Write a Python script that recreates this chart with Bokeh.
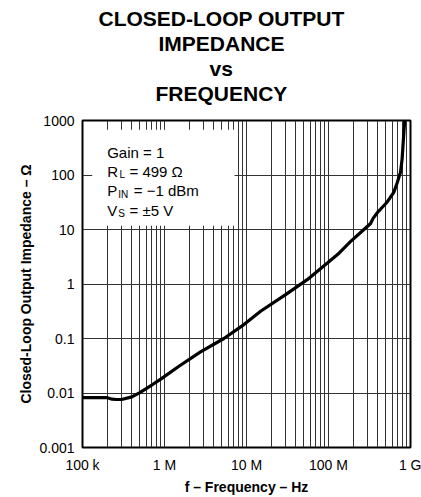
from bokeh.plotting import figure
from bokeh.models import FixedTicker, Label, BoxAnnotation, Title
from bokeh.embed import file_html
from bokeh.resources import INLINE

# ---- data ----
freq_hz = [1e5, 1.5e5, 2e5, 2.3e5, 2.6e5, 3e5, 4e5, 5e5, 7e5, 9e5, 1.5e6, 2.75e6,
           5.3e6, 9.3e6, 1.5e7, 3e7, 5.5e7, 9.6e7, 1.3e8, 1.85e8, 2.6e8, 3.26e8,
           3.5e8, 4e8, 4.3e8, 5.2e8, 6.25e8, 6.9e8, 7.55e8, 7.9e8, 8.15e8, 8.5e8]
impedance_ohm = [0.0082, 0.0082, 0.0082, 0.0077, 0.0076, 0.0076, 0.0085, 0.0102, 0.014,
                 0.018, 0.031, 0.057, 0.1, 0.18, 0.32, 0.64, 1.2, 2.4, 3.5, 6.0, 9.5,
                 12.9, 16, 21, 23.5, 32, 48, 73, 112, 196, 400, 1000]

x_ticks = [1e5, 1e6, 1e7, 1e8, 1e9]
x_tick_labels = ["100 k", "1 M", "10 M", "100 M", "1 G"]
y_ticks = [1e-3, 1e-2, 1e-1, 1e0, 1e1, 1e2, 1e3]
y_tick_labels = ["0.001", "0.01", "0.1", "1", "10", "100", "1000"]

title_lines = ["CLOSED-LOOP OUTPUT", "IMPEDANCE", "vs", "FREQUENCY"]
# left offsets (px from frame left) that centre each title line near x = 221
title_offsets = [16, 76, 127, 73]

FONT = "Liberation Sans"
GRID = "#333333"

p = figure(frame_width=328, frame_height=327, x_axis_type="log", y_axis_type="log",
           x_range=(1e5, 1e9), y_range=(1e-3, 1e3), title_location=None,
           min_border_left=82, min_border_right=11, min_border_top=120,
           min_border_bottom=50, toolbar_location=None, output_backend="svg",
           background_fill_color="white", border_fill_color="white")

p.outline_line_color = "black"
p.outline_line_width = 2
p.outline_line_alpha = 1

# grid: vertical lines at every 1..9 x decade, horizontal at decades
minor_x = [m * 10 ** e for e in range(5, 9) for m in range(1, 10)] + [1e9]
p.xgrid.ticker = FixedTicker(ticks=minor_x)
p.ygrid.ticker = FixedTicker(ticks=y_ticks)
for g in (p.xgrid, p.ygrid):
    g.grid_line_color = GRID
    g.grid_line_width = 1
    g.grid_line_alpha = 1

xa = p.xaxis[0]
ya = p.yaxis[0]
xa.ticker = FixedTicker(ticks=x_ticks, minor_ticks=[])
ya.ticker = FixedTicker(ticks=y_ticks, minor_ticks=[])
xa.major_label_overrides = {t: s for t, s in zip(x_ticks, x_tick_labels)}
ya.major_label_overrides = {t: s for t, s in zip(y_ticks, y_tick_labels)}
for ax in (xa, ya):
    ax.axis_line_color = None
    ax.major_tick_line_color = None
    ax.minor_tick_line_color = None
    ax.major_tick_out = 0
    ax.major_tick_in = 0
    ax.minor_tick_out = 0
    ax.minor_tick_in = 0
    ax.major_label_text_font = FONT
    ax.major_label_text_font_size = "14px"
    ax.major_label_text_color = "black"
    ax.axis_label_text_font = FONT
    ax.axis_label_text_font_size = "14px"
    ax.axis_label_text_font_style = "bold"
    ax.axis_label_text_color = "black"
xa.major_label_standoff = 9
ya.major_label_standoff = 8
xa.axis_label = "f \u2013 Frequency \u2013 Hz"
ya.axis_label = "Closed-Loop Output Impedance \u2013 \u03a9"
xa.axis_label_standoff = 3
ya.axis_label_standoff = 2

# curve
p.line(freq_hz, impedance_ohm, line_color="black", line_width=3.2)

# legend box (white, covers grid)
p.add_layout(BoxAnnotation(left=9.7, right=152, top=317.8, bottom=221.8,
                           left_units="screen", right_units="screen",
                           top_units="screen", bottom_units="screen",
                           fill_color="white", fill_alpha=1, line_color=None,
                           level="annotation"))

def lab(x, y, text, size="15px"):
    p.add_layout(Label(x=x, y=y, x_units="screen", y_units="screen", text=text,
                       text_font=FONT, text_font_size=size, text_color="black",
                       text_baseline="alphabetic", text_align="left"))

# legend text (frame-relative screen coordinates)
base = [295.2, 276.0, 256.8, 237.5]
lab(24.7, base[0], "Gain = 1")
lab(24.7, base[1], "R")
lab(37.0, base[1] - 3.4, "L", size="10px")
lab(47.0, base[1], "= 499 \u03a9")
lab(24.7, base[2], "P")
lab(35.7, base[2] - 3.4, "IN", size="10px")
lab(51.3, base[2], "= \u22121 dBm")
lab(24.7, base[3], "V")
lab(35.7, base[3] - 3.4, "S", size="10px")
lab(47.0, base[3], "= \u00b15 V")

# title: stacked Title panels (added from the frame outward)
p.add_layout(Title(text=" ", text_font_size="1px", standoff=13), "above")
for t, off in zip(reversed(title_lines), reversed(title_offsets)):
    p.add_layout(Title(text=t, align="left", offset=off, text_font=FONT,
                       text_font_size="21px", text_font_style="bold",
                       text_color="black", standoff=0), "above")

open("out.html", "w").write(file_html(p, INLINE))
